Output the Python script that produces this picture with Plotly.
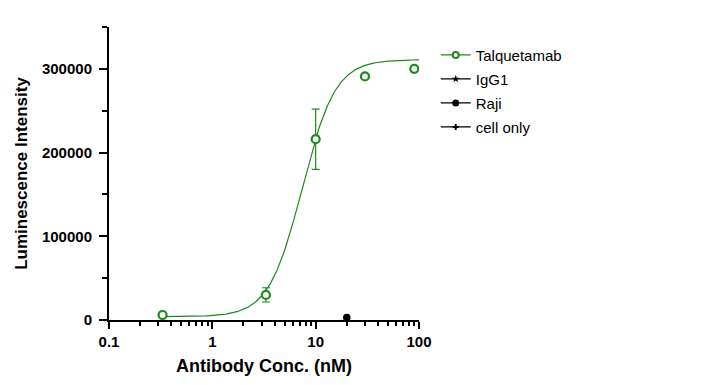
import numpy as np
import plotly.graph_objects as go

# Talquetamab measured points
talq_conc = [0.33, 3.3, 10, 30, 90]
talq_mean = [6000, 30000, 216000, 291000, 300000]
talq_err = [None, 8500, 36000, None, None]

# Raji control
raji_conc = [20]
raji_mean = [3000]

# 4PL fit parameters for Talquetamab curve
fit_bottom = 4000
fit_top = 311000
fit_ec50 = 7.4
fit_hill = 2.7
fit_xmin, fit_xmax = 0.33, 100

x_tickvals = [0.1, 1, 10, 100]
x_ticktext = ["0.1", "1", "10", "100"]
y_tickvals = [0, 100000, 200000, 300000]
y_ticktext = ["0", "100000", "200000", "300000"]

GREEN = "#1d8a1d"
FONT = "Arial, Liberation Sans, sans-serif"

xc = np.logspace(np.log10(fit_xmin), np.log10(fit_xmax), 300)
yc = fit_bottom + (fit_top - fit_bottom) / (1 + (fit_ec50 / xc) ** fit_hill)

fig = go.Figure()

# fitted curve
fig.add_trace(go.Scatter(x=xc, y=yc, mode="lines", line=dict(color=GREEN, width=1.2),
                         showlegend=False, hoverinfo="skip"))
# data points
fig.add_trace(go.Scatter(x=talq_conc, y=talq_mean, mode="markers",
                         marker=dict(symbol="circle", size=8, color="white", line=dict(width=2.2, color=GREEN)),
                         error_y=dict(type="data", array=talq_err, visible=True, color=GREEN, thickness=1.2, width=4),
                         showlegend=False))
fig.add_trace(go.Scatter(x=raji_conc, y=raji_mean, mode="markers",
                         marker=dict(symbol="circle", size=7.5, color="black"),
                         showlegend=False))

# legend entries
fig.add_trace(go.Scatter(x=[None], y=[None], mode="lines+markers", name="Talquetamab", legendgroup="a",
                         line=dict(color=GREEN, width=1.2),
                         marker=dict(symbol="circle", size=6, color="white", line=dict(width=2, color=GREEN))))
fig.add_trace(go.Scatter(x=[None], y=[None], mode="lines+markers", name="IgG1", legendgroup="b",
                         line=dict(color="black", width=1.2),
                         marker=dict(symbol="star", size=6, color="black")))
fig.add_trace(go.Scatter(x=[None], y=[None], mode="lines+markers", name="Raji", legendgroup="c",
                         line=dict(color="black", width=1.2),
                         marker=dict(symbol="circle", size=7, color="black")))
fig.add_trace(go.Scatter(x=[None], y=[None], mode="lines+markers", name="cell only", legendgroup="d",
                         line=dict(color="black", width=1.2),
                         marker=dict(symbol="cross", size=5, color="black")))

fig.update_layout(
    width=712, height=377,
    margin=dict(l=96, r=301, t=19, b=63.5),
    plot_bgcolor="white", paper_bgcolor="white",
    font=dict(family=FONT, color="black"),
    legend=dict(x=1.054, y=0.96, xanchor="left", yanchor="top", font=dict(size=15, family=FONT),
                tracegroupgap=1.5, bgcolor="rgba(0,0,0,0)", itemwidth=30),
    xaxis=dict(type="log", range=[-1, 2], showline=True, linecolor="black", linewidth=2,
               ticks="outside", ticklen=7, tickwidth=2, tickcolor="black",
               tickvals=x_tickvals, ticktext=["<b>%s</b>" % t for t in x_ticktext],
               tickfont=dict(size=15, family=FONT), ticklabelstandoff=0,
               minor=dict(ticks="outside", ticklen=4, tickwidth=2, tickcolor="black", dtick="D1", showgrid=False),
               showgrid=False, zeroline=False,
               title=dict(text="<b>Antibody Conc. (nM)</b>", font=dict(size=18, family=FONT), standoff=10)),
    yaxis=dict(range=[0, 350000], showline=True, linecolor="black", linewidth=2,
               ticks="outside", ticklen=8, tickwidth=2, tickcolor="black",
               tickvals=y_tickvals, ticktext=["<b>%s</b>" % t for t in y_ticktext],
               tickfont=dict(size=15, family=FONT), ticklabelstandoff=4,
               minor=dict(ticks="outside", ticklen=5, tickwidth=2, tickcolor="black", dtick=50000, showgrid=False),
               showgrid=False, zeroline=False,
               title=dict(text="<b>Luminescence Intensity</b>", font=dict(size=17, family=FONT), standoff=10)),
)

fig.write_html("out.html")
